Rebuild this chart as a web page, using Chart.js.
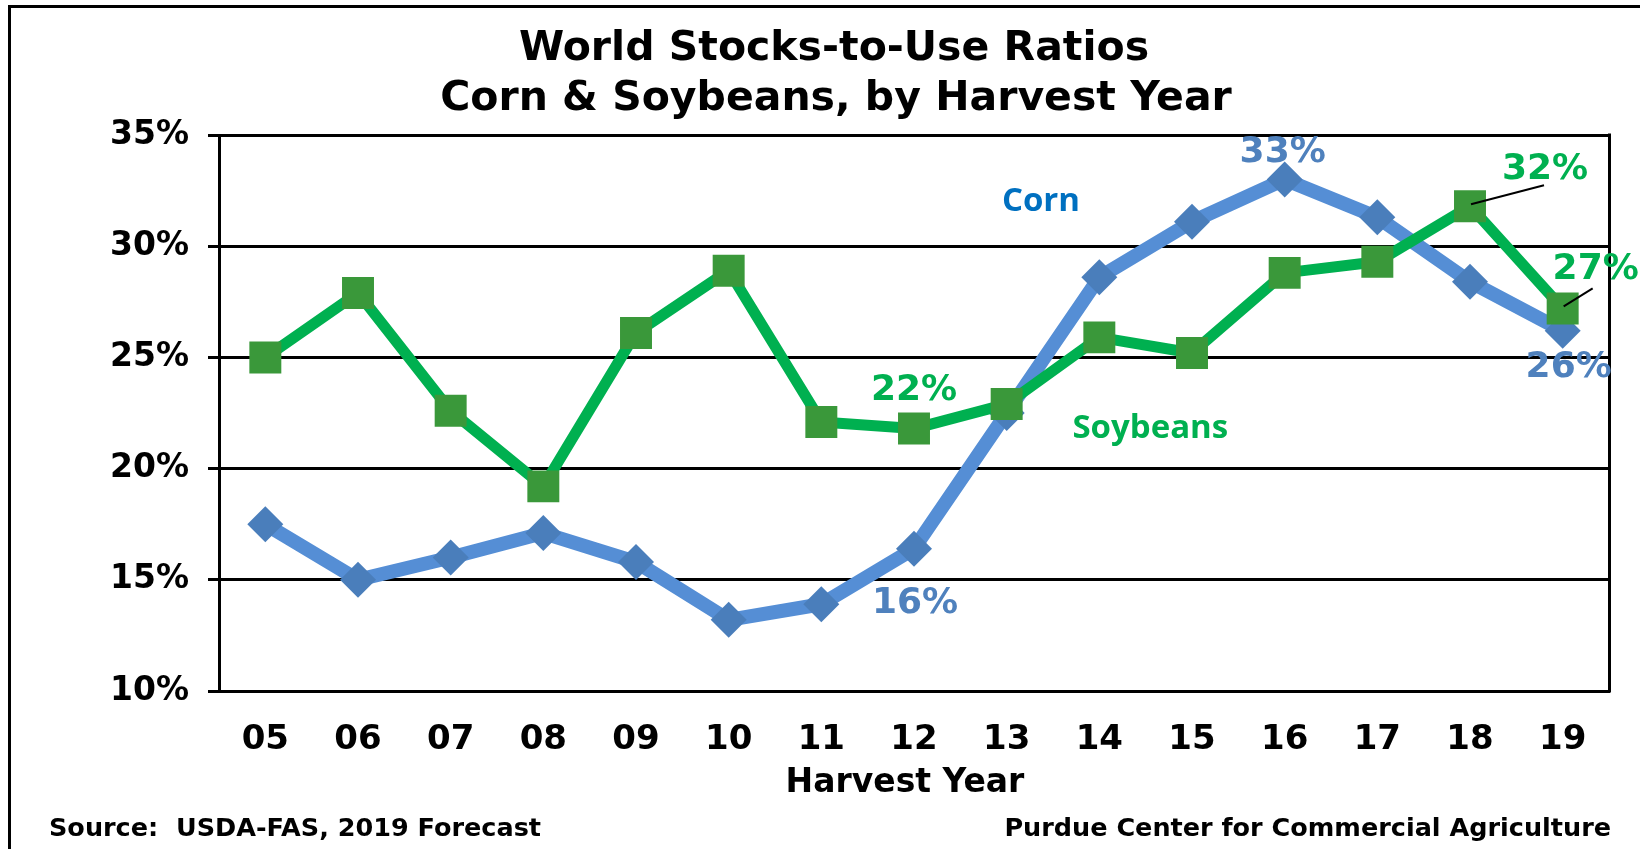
<!DOCTYPE html>
<html>
<head>
<meta charset="utf-8">
<title>World Stocks-to-Use Ratios</title>
<script src="https://cdn.jsdelivr.net/npm/chart.js@4.4.1/dist/chart.umd.min.js"></script>
<style>
  html, body { margin: 0; padding: 0; background: #ffffff; }
  canvas { display: block; }
</style>
</head>
<body>
<canvas id="stocks-chart" width="1640" height="849"></canvas>
<script>
// harvest years and world stocks-to-use ratios (%)
var harvestYears = ["05", "06", "07", "08", "09", "10", "11", "12", "13", "14", "15", "16", "17", "18", "19"];
var cornRatio = [17.5, 15.0, 16.0, 17.1, 15.8, 13.2, 13.9, 16.4, 22.5, 28.6, 31.1, 33.0, 31.3, 28.4, 26.2];
var soyRatio = [25.0, 27.9, 22.6, 19.2, 26.1, 28.9, 22.1, 21.8, 22.9, 25.9, 25.2, 28.8, 29.3, 31.8, 27.2];
var yTicks = [10, 15, 20, 25, 30, 35];

(function () {
  var BOLD = "bold";
  var VERDANA = "'DejaVu Sans', Verdana, sans-serif";
  var CALIBRI = "'Open Sans', 'Noto Sans', sans-serif";

  var CORN_LINE = "#558ed5";
  var CORN_MARK = "#4a7ebb";
  var CORN_TEXT = "#4f81bd";
  var SOY_LINE = "#00b050";
  var SOY_MARK = "#3a983a";

  Chart.defaults.font.family = VERDANA;
  Chart.defaults.color = "#000000";

  // value callouts: dataset index, point index, offset of the text from the point
  var callouts = [
    { ds: 1, i: 11, color: CORN_TEXT, dx: -2, dy: -27 },
    { ds: 1, i: 14, color: CORN_TEXT, dx: 6, dy: 37 },
    { ds: 1, i: 7, color: CORN_TEXT, dx: 1, dy: 55 },
    { ds: 0, i: 7, color: SOY_LINE, dx: 0, dy: -38 },
    { ds: 0, i: 13, color: SOY_LINE, dx: 75, dy: -37, leader: [1, -2, 74, -21] },
    { ds: 0, i: 14, color: SOY_LINE, dx: 33, dy: -39, leader: [1, -2, 30, -20] }
  ];

  // series names placed in data space (category index, percent)
  var seriesNames = [
    { text: "Corn", color: "#0070c0", at: [8.37, 32.0] },
    { text: "Soybeans", color: SOY_LINE, at: [9.55, 21.8] }
  ];

  function text(ctx, str, x, y, font, color, align) {
    ctx.font = font;
    ctx.fillStyle = color;
    ctx.textAlign = align || "center";
    ctx.textBaseline = "middle";
    ctx.fillText(str, x, y);
  }

  var decorations = {
    id: "decorations",
    afterDraw: function (chart) {
      var ctx = chart.ctx;
      var area = chart.chartArea;
      var xs = chart.scales.x;
      var ys = chart.scales.y;

      ctx.save();

      // outer frame (left and top edges)
      ctx.strokeStyle = "#000000";
      ctx.lineWidth = 3;
      ctx.beginPath();
      ctx.moveTo(9.5, chart.height);
      ctx.lineTo(9.5, 6.5);
      ctx.lineTo(chart.width, 6.5);
      ctx.stroke();

      // right edge of the plot box
      ctx.beginPath();
      ctx.moveTo(area.right + 0.5, area.top - 1.5);
      ctx.lineTo(area.right + 0.5, area.bottom + 1.5);
      ctx.stroke();

      // titles
      text(ctx, "World Stocks-to-Use Ratios", 834, 49, BOLD + " 41px " + VERDANA, "#000");
      text(ctx, "Corn & Soybeans, by Harvest Year", 836, 99, BOLD + " 41px " + VERDANA, "#000");
      text(ctx, "Harvest Year", (area.left + area.right) / 2 - 9, 783, BOLD + " 33px " + VERDANA, "#000");
      text(ctx, "Source:  USDA-FAS, 2019 Forecast", 49, 829, BOLD + " 25.5px " + VERDANA, "#000", "left");
      text(ctx, "Purdue Center for Commercial Agriculture", 1611, 829, BOLD + " 25.5px " + VERDANA, "#000", "right");

      // series names
      seriesNames.forEach(function (s) {
        text(ctx, s.text, xs.getPixelForValue(s.at[0]), ys.getPixelForValue(s.at[1]),
          BOLD + " 33px " + CALIBRI, s.color);
      });

      // value callouts
      callouts.forEach(function (c) {
        var pt = chart.getDatasetMeta(c.ds).data[c.i];
        var val = chart.data.datasets[c.ds].data[c.i];
        if (c.leader) {
          ctx.strokeStyle = "#000000";
          ctx.lineWidth = 2;
          ctx.beginPath();
          ctx.moveTo(pt.x + c.leader[0], pt.y + c.leader[1]);
          ctx.lineTo(pt.x + c.leader[2], pt.y + c.leader[3]);
          ctx.stroke();
        }
        text(ctx, Math.round(val) + "%", pt.x + c.dx, pt.y + c.dy, BOLD + " 36px " + VERDANA, c.color);
      });

      ctx.restore();
    }
  };

  new Chart(document.getElementById("stocks-chart"), {
    type: "line",
    data: {
      labels: harvestYears,
      datasets: [
        {
          label: "Soybeans",
          data: soyRatio,
          order: 0,
          borderColor: SOY_LINE,
          borderWidth: 11,
          borderJoinStyle: "round",
          borderCapStyle: "round",
          pointStyle: "rect",
          pointRadius: 22.6,
          pointHoverRadius: 22.6,
          pointBackgroundColor: SOY_MARK,
          pointBorderWidth: 0,
          tension: 0,
          clip: false
        },
        {
          label: "Corn",
          data: cornRatio,
          order: 1,
          borderColor: CORN_LINE,
          borderWidth: 14,
          borderJoinStyle: "round",
          borderCapStyle: "round",
          pointStyle: "rectRot",
          pointRadius: 18,
          pointHoverRadius: 18,
          pointBackgroundColor: CORN_MARK,
          pointBorderWidth: 0,
          tension: 0,
          clip: false
        }
      ]
    },
    options: {
      responsive: false,
      animation: false,
      events: [],
      layout: {
        padding: { left: 0, right: 31, top: 135, bottom: 98 }
      },
      plugins: {
        legend: { display: false },
        tooltip: { enabled: false },
        title: { display: false }
      },
      scales: {
        x: {
          offset: true,
          afterFit: function (scale) { scale.height = 60; },
          grid: { display: false, drawTicks: false },
          border: { color: "#000000", width: 3 },
          ticks: {
            color: "#000000",
            font: { size: 34, weight: "bold" },
            padding: 29,
            maxRotation: 0,
            autoSkip: false
          }
        },
        y: {
          min: 10,
          max: 35,
          afterFit: function (scale) { scale.width = 219; },
          afterBuildTicks: function (axis) {
            axis.ticks = yTicks.map(function (v) { return { value: v }; });
          },
          grid: { color: "#000000", lineWidth: 3, tickLength: 11, drawTicks: true },
          border: { color: "#000000", width: 3 },
          ticks: {
            color: "#000000",
            font: { size: 33, weight: "bold" },
            padding: 19,
            callback: function (v) { return v + "%"; }
          }
        }
      }
    },
    plugins: [decorations]
  });
})();
</script>
</body>
</html>
